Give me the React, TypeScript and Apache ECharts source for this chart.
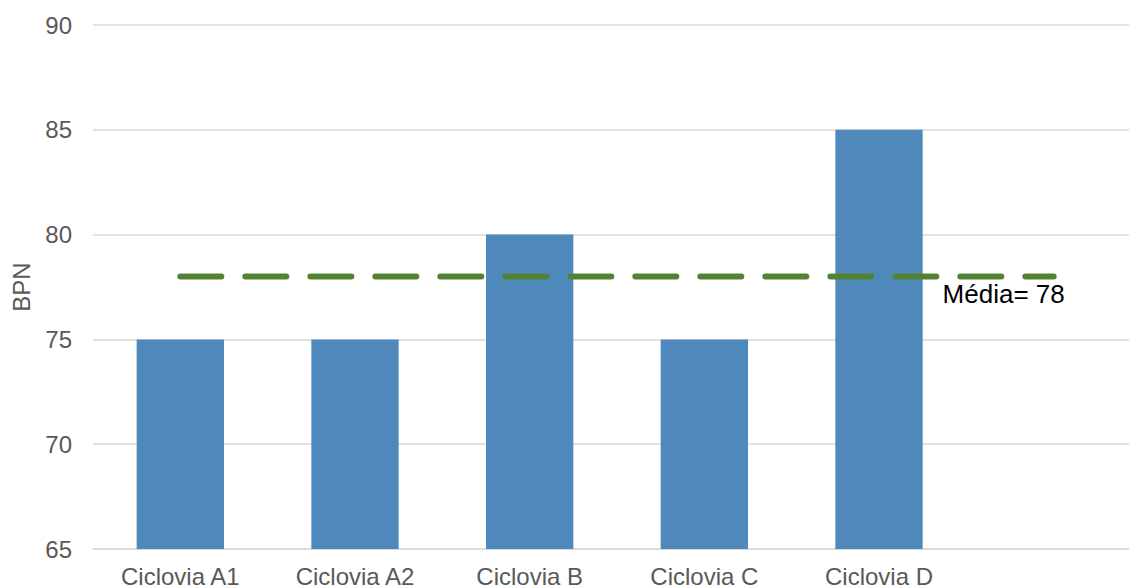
import React, { useEffect, useRef } from "react";
import * as echarts from "echarts";

// Categories (the last slot is blank so the average line runs past Ciclovia D)
const categories = ["Ciclovia A1", "Ciclovia A2", "Ciclovia B", "Ciclovia C", "Ciclovia D", ""];
// BPN measured for each bike lane
const bpnValues: (number | null)[] = [75, 75, 80, 75, 85, null];
// Average BPN across the lanes
const media = 78;
const mediaLine = categories.map(() => media);
// Y-axis range
const yMin = 65;
const yMax = 90;
const yStep = 5;

const FONT = "'Liberation Sans', Arial, sans-serif";

export default function App() {
  const ref = useRef<HTMLDivElement>(null);

  useEffect(() => {
    if (!ref.current) return;
    const chart = echarts.init(ref.current, undefined, { renderer: "svg" });
    const last = mediaLine.length - 1;
    chart.setOption({
      animation: false,
      textStyle: { fontFamily: FONT },
      // plot area runs past the right edge of the visible page
      grid: { left: 93, top: 25, width: 1048, height: 524, containLabel: false },
      xAxis: {
        type: "category",
        data: categories,
        axisTick: { show: false },
        axisLine: { lineStyle: { color: "#d9d9d9", width: 1.5 } },
        axisLabel: { color: "#595959", fontSize: 24, fontFamily: FONT, margin: 15, interval: 0 },
      },
      yAxis: {
        type: "value",
        min: yMin,
        max: yMax,
        interval: yStep,
        name: "BPN",
        nameLocation: "middle",
        nameRotate: 90,
        nameGap: 60,
        nameTextStyle: { color: "#595959", fontSize: 24, fontFamily: FONT },
        axisLine: { show: false },
        axisTick: { show: false },
        axisLabel: { color: "#595959", fontSize: 24, fontFamily: FONT, margin: 21 },
        splitLine: { lineStyle: { color: "#d9d9d9", width: 1.5 } },
      },
      series: [
        {
          type: "bar",
          data: bpnValues,
          barCategoryGap: "50%",
          itemStyle: { color: "#4f89bc" },
        },
        {
          type: "line",
          data: mediaLine.map((v, i) =>
            i === last
              ? {
                  value: v,
                  label: {
                    show: true,
                    formatter: () => `Média= ${media}`,
                    position: "bottom",
                    offset: [-50, -1],
                    color: "#000000",
                    fontSize: 26,
                    fontFamily: FONT,
                  },
                }
              : v
          ),
          symbol: "circle",
          symbolSize: 0,
          showSymbol: true,
          lineStyle: { color: "#548235", width: 6, type: [41, 24], cap: "round" },
          itemStyle: { color: "#548235" },
          z: 3,
        },
      ],
    });
    return () => chart.dispose();
  }, []);

  return (
    <div
      ref={ref}
      style={{ position: "fixed", left: 0, top: 0, width: 1150, height: 588, background: "#ffffff" }}
    />
  );
}
